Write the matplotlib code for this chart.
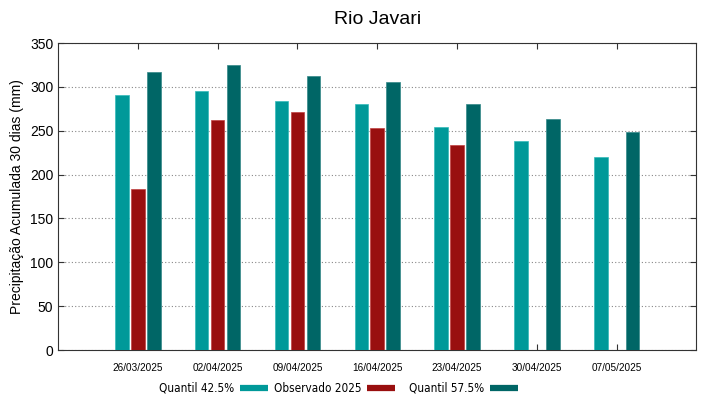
import matplotlib
matplotlib.use("Agg")
import matplotlib.pyplot as plt
from matplotlib.lines import Line2D
from matplotlib import font_manager
import numpy as np

plt.rcParams['font.family'] = ['Liberation Sans', 'DejaVu Sans']

datas = ['26/03/2025', '02/04/2025', '09/04/2025', '16/04/2025',
         '23/04/2025', '30/04/2025', '07/05/2025']
q425 = [291, 295, 284, 280, 254, 238, 220]
obs2025 = [183, 262, 271, 253, 234, np.nan, np.nan]
q575 = [317, 325, 312, 305, 280, 263, 248]

cor_q425 = '#009999'
cor_obs = '#990f0f'
cor_q575 = '#006666'

W, H = 719, 399
fig = plt.figure(figsize=(W / 100, H / 100), dpi=100)
ax = fig.add_axes([0.0807, 0.1228, 0.888, 0.7694])

x = np.arange(len(datas))
w = 0.17
ax.bar(x - 0.2, q425, w, color=cor_q425, edgecolor='#33bbbb', linewidth=0.5, zorder=3)
ax.bar(x, obs2025, w, color=cor_obs, edgecolor='#c04040', linewidth=0.5, zorder=3)
ax.bar(x + 0.2, q575, w, color=cor_q575, edgecolor='#338888', linewidth=0.5, zorder=3)

ax.set_xlim(-1, 7)
ax.set_ylim(0, 350)
ax.set_yticks(range(0, 351, 50))
ax.set_xticks(x)
ax.set_xticklabels(datas, fontsize=7.2)
ax.tick_params(axis='x', direction='in', top=True, length=4, pad=9, color='#333333')
ax.tick_params(axis='y', direction='in', right=True, length=4, labelsize=10, color='#333333')
ax.yaxis.grid(True, linestyle=(0, (1, 2)), color='#888888', linewidth=0.8, zorder=0)
for s in ax.spines.values():
    s.set_color('#333333')

ax.set_ylabel('Precipitação Acumulada 30 dias (mm)', fontsize=10)
ax.set_title('Rio Javari', fontsize=14, pad=14)

# legenda estilo gnuplot: texto e depois a amostra
tem_condensada = any('Condensed' in f.fname for f in font_manager.fontManager.ttflist
                     if f.name.startswith('DejaVu Sans'))
if tem_condensada:
    fonte_leg = dict(family='DejaVu Sans', stretch='condensed', fontsize=8.4)
else:
    fonte_leg = dict(fontsize=7.8)
rotulos = ['Quantil 42.5%', 'Observado 2025', 'Quantil 57.5%']
cores = [cor_q425, cor_obs, cor_q575]
inicio_amostra = [240, 367, 490]
ly = (H - 388) / H
for rot, cor, x0 in zip(rotulos, cores, inicio_amostra):
    fig.text((x0 - 6) / W, ly, rot, ha='right', va='center', **fonte_leg)
    fig.add_artist(Line2D([x0 / W, (x0 + 28) / W], [ly, ly], color=cor,
                          linewidth=4.5, solid_capstyle='butt',
                          transform=fig.transFigure))

fig.savefig('out.png', dpi=100)
